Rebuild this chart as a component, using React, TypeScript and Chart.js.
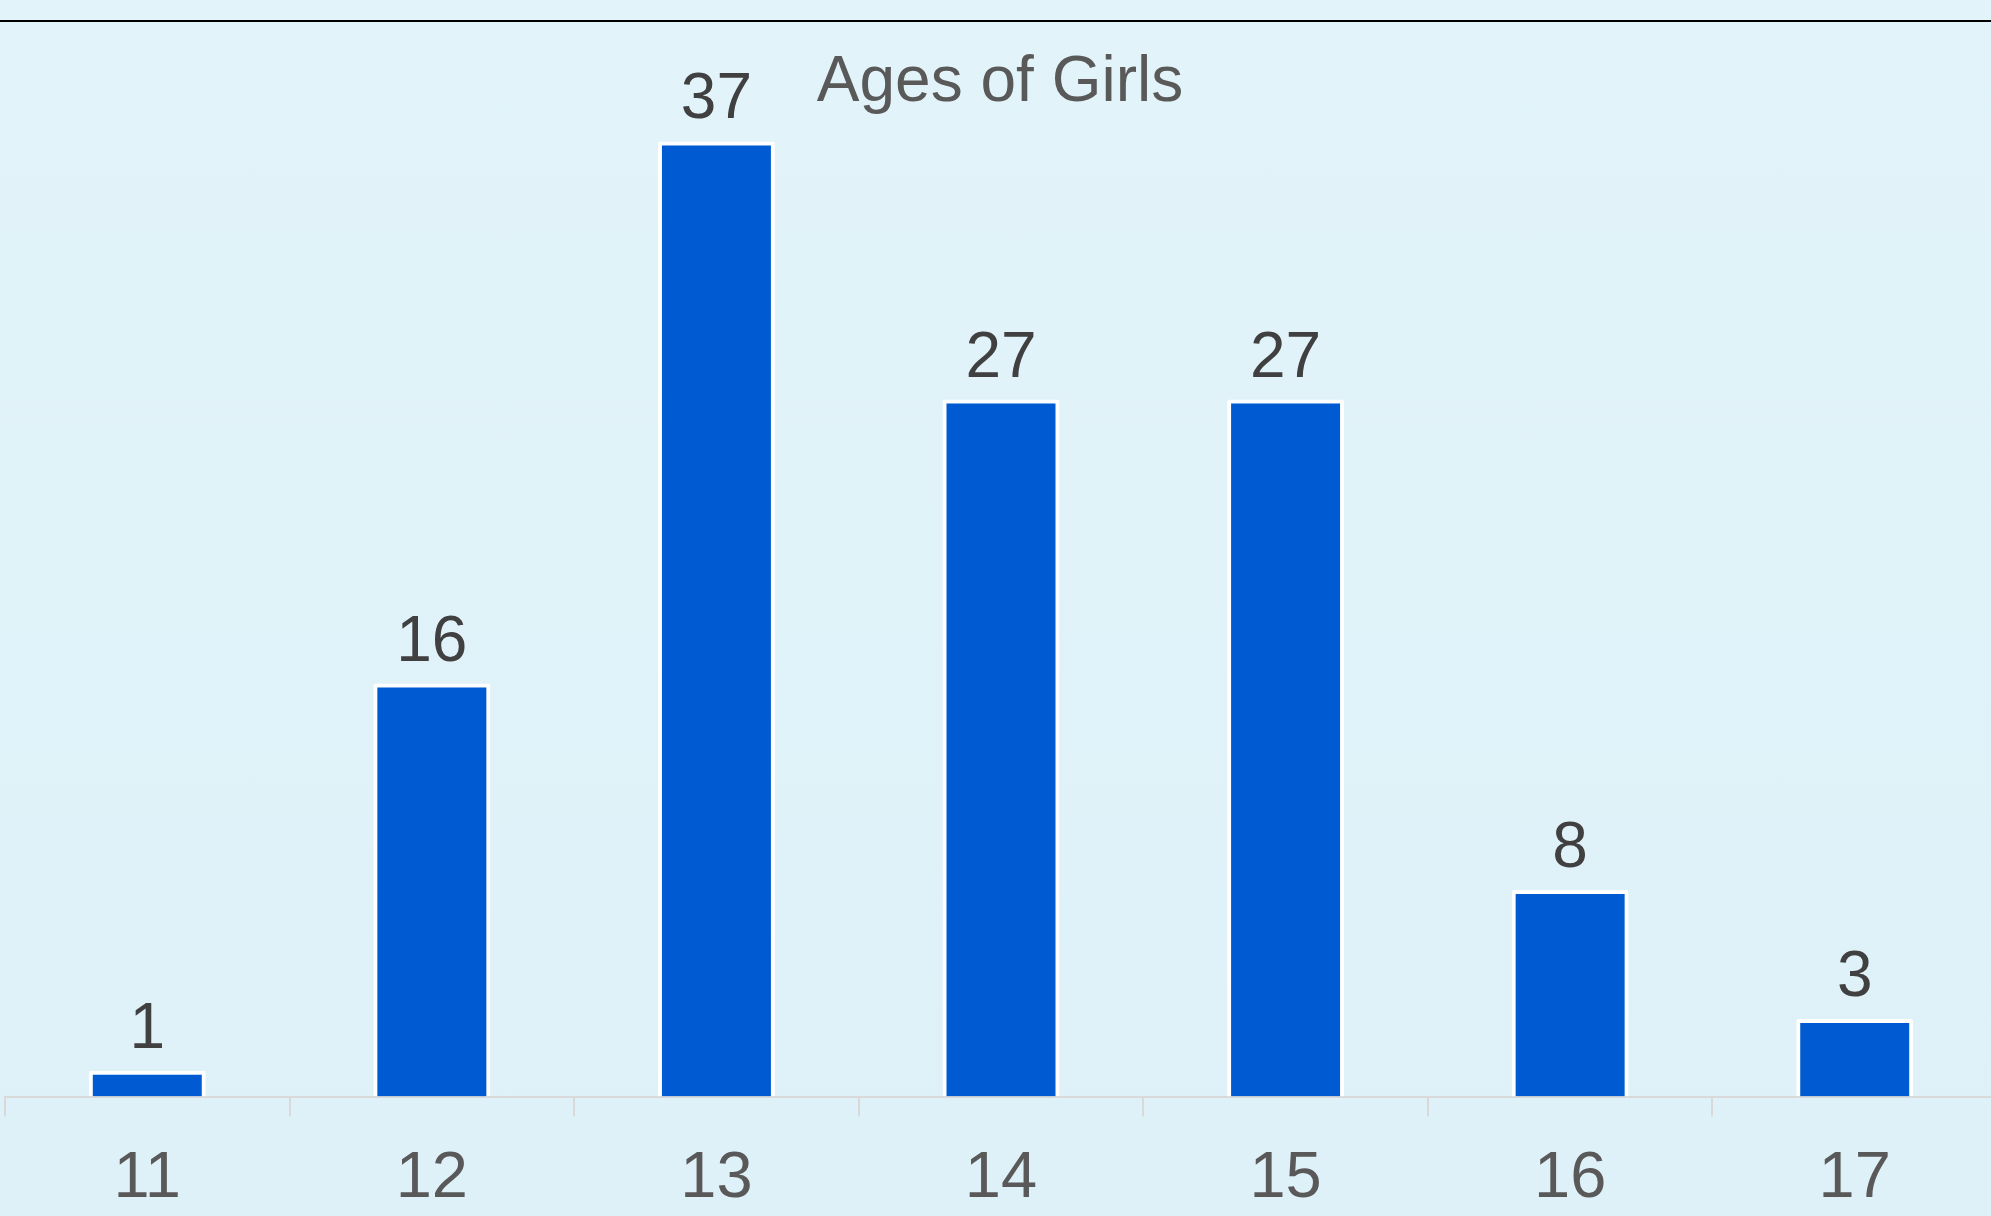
import React, { useEffect, useRef } from "react";
import { Chart, registerables } from "chart.js";

Chart.register(...registerables);

const categories: string[] = ["11", "12", "13", "14", "15", "16", "17"];
const counts: number[] = [1, 16, 37, 27, 27, 8, 3];
const chartTitle = "Ages of Girls";
const yMax = 40;

const FONT = "'Liberation Sans', Arial, Helvetica, sans-serif";

const overlayPlugin = {
  id: "overlayText",
  afterDatasetsDraw(chart: any) {
    const ctx = chart.ctx as CanvasRenderingContext2D;
    ctx.save();
    ctx.font = `64px ${FONT}`;
    ctx.textAlign = "center";
    ctx.textBaseline = "alphabetic";
    // value labels
    ctx.fillStyle = "#404040";
    const meta = chart.getDatasetMeta(0);
    meta.data.forEach((bar: any, i: number) => {
      ctx.fillText(String(counts[i]), bar.x, bar.y - 23);
    });
    // title
    ctx.fillStyle = "#595959";
    ctx.fillText(chartTitle, chart.width / 2, 101);
    ctx.restore();
  },
};

export default function App() {
  const canvasRef = useRef<HTMLCanvasElement | null>(null);

  useEffect(() => {
    if (!canvasRef.current) return;
    const chart = new Chart(canvasRef.current, {
      type: "bar",
      data: {
        labels: categories,
        datasets: [
          {
            data: counts,
            backgroundColor: "#005bd3",
            borderColor: "#ffffff",
            borderWidth: 4,
            borderRadius: 2,
            borderSkipped: "bottom",
            categoryPercentage: 1,
            barPercentage: 0.411,
          },
        ],
      },
      options: {
        responsive: false,
        animation: false,
        layout: { padding: { top: 64, left: 5, right: 3, bottom: 0 } },
        plugins: {
          legend: { display: false },
          title: { display: false },
          tooltip: { enabled: false },
        },
        scales: {
          x: {
            afterFit: (scale: any) => {
              scale.height = 119.5;
            },
            grid: {
              display: true,
              drawOnChartArea: false,
              drawTicks: true,
              tickLength: 20,
              color: "#d9d9d9",
              lineWidth: 2,
            },
            border: { display: true, color: "#d9d9d9", width: 2 },
            ticks: {
              color: "#595959",
              font: { family: FONT, size: 65 },
              padding: 24,
              maxRotation: 0,
            },
          },
          y: {
            display: false,
            min: 0,
            max: yMax,
          },
        },
      },
      plugins: [overlayPlugin],
    });
    return () => chart.destroy();
  }, []);

  return (
    <div
      style={{
        position: "fixed",
        left: 0,
        top: 0,
        width: 1991,
        height: 1216,
        overflow: "hidden",
        background: "linear-gradient(to bottom, #e2f4fa, #dff1f8)",
      }}
    >
      <div
        style={{
          position: "absolute",
          left: 0,
          top: 20,
          width: "100%",
          height: 2,
          background: "#000000",
        }}
      />
      <canvas
        ref={canvasRef}
        width={2000}
        height={1216}
        style={{ position: "absolute", left: 0, top: 0, width: 2000, height: 1216 }}
      />
    </div>
  );
}
